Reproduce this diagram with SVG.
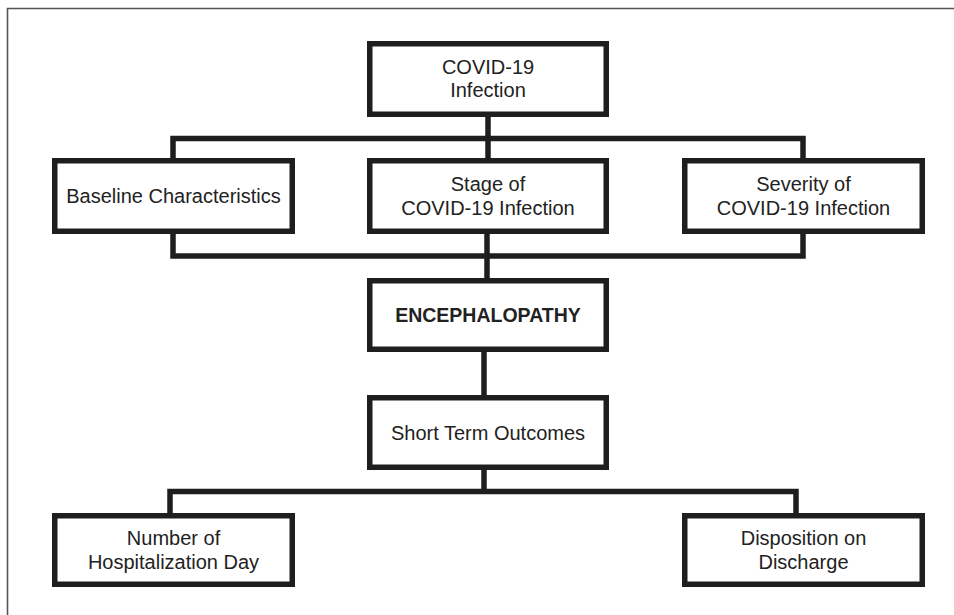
<svg xmlns="http://www.w3.org/2000/svg" width="954" height="615" viewBox="0 0 954 615">
<style>
.box{fill:#fff;stroke:#1e1e1e;stroke-width:5.5}
.con{fill:none;stroke:#1e1e1e;stroke-width:5.5;stroke-linejoin:miter;stroke-linecap:butt}
.t{font-family:"Liberation Sans",Arial,sans-serif;font-size:20px;fill:#222;text-anchor:middle}
.b{font-weight:bold;font-size:19.5px}
.frame{fill:none;stroke:#555;stroke-width:1.6}
</style>
<rect width="954" height="615" fill="#fff"/>
<path class="frame" d="M7.5 615 V8.5 H954"/>
<g id="connectors">
<path class="con" d="M488 117 V158"/>
<path class="con" d="M173 158 V138.5 H803 V158"/>
<path class="con" d="M173 234 V256 H803 V234"/>
<path class="con" d="M487 234 V278"/>
<path class="con" d="M484 352 V395"/>
<path class="con" d="M484 470 V491.5"/>
<path class="con" d="M170 513 V491.5 H796 V513"/>
</g>
<g id="covid">
<rect class="box" x="369.75" y="43.75" width="236.5" height="70.5"/>
<text class="t" x="488" y="73.5">COVID-19</text>
<text class="t" x="488" y="97">Infection</text>
</g>
<g id="baseline">
<rect class="box" x="54.75" y="160.75" width="237.5" height="70.5"/>
<text class="t" x="173.5" y="202.5">Baseline Characteristics</text>
</g>
<g id="stage">
<rect class="box" x="369.75" y="160.75" width="236.5" height="70.5"/>
<text class="t" x="488" y="191">Stage of</text>
<text class="t" x="488" y="215">COVID-19 Infection</text>
</g>
<g id="severity">
<rect class="box" x="684.75" y="160.75" width="237.5" height="70.5"/>
<text class="t" x="803.5" y="191">Severity of</text>
<text class="t" x="803.5" y="215">COVID-19 Infection</text>
</g>
<g id="encephalopathy">
<rect class="box" x="369.75" y="280.75" width="236.5" height="68.5"/>
<text class="t b" x="488" y="322">ENCEPHALOPATHY</text>
</g>
<g id="short-term">
<rect class="box" x="369.75" y="397.75" width="236.5" height="69.5"/>
<text class="t" x="488" y="439.5">Short Term Outcomes</text>
</g>
<g id="hospitalization">
<rect class="box" x="54.75" y="515.75" width="237.5" height="68.5"/>
<text class="t" x="173.5" y="545">Number of</text>
<text class="t" x="173.5" y="569">Hospitalization Day</text>
</g>
<g id="disposition">
<rect class="box" x="684.75" y="515.75" width="237.5" height="68.5"/>
<text class="t" x="803.5" y="545">Disposition on</text>
<text class="t" x="803.5" y="569">Discharge</text>
</g>
</svg>
